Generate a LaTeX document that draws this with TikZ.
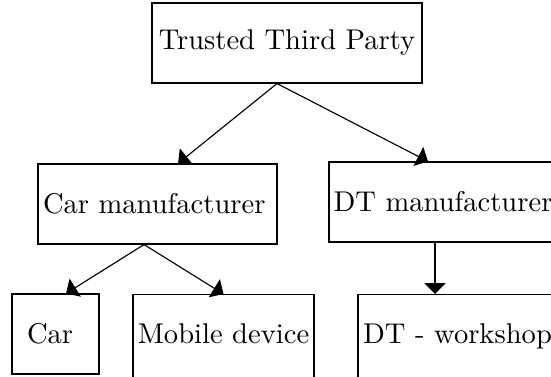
\documentclass[tikz,border=0pt]{standalone}
\usetikzlibrary{arrows.meta}
\begin{document}
\begin{tikzpicture}[x=0.35pt,y=-0.35pt,
  box/.style={draw, rectangle, inner xsep=1pt, minimum height=28pt, anchor=center},
  openbox/.style={draw, rectangle, inner xsep=1pt, inner ysep=0pt, text height=17pt, text depth=20pt, anchor=north},
  arr/.style={-{Triangle[length=3.8pt,width=7.4pt]}}]
\useasboundingbox (0,0) rectangle (551,376);
\clip (0,0) rectangle (551,376);
\node[box, minimum width=94.5pt] (ttp) at (287,43) {Trusted Third Party};
\node[box, inner xsep=1.75pt, text width=80.15pt, align=left] (cm) at (157.5,204) {Car manufacturer};
\node[box, minimum width=79.8pt] (dtm) at (443,202) {DT manufacturer};
\node[box, inner xsep=5.25pt, text width=19.95pt, align=left] (car) at (55.5,334) {Car};
\node[openbox, minimum width=63.35pt] (md) at (223.5,294) {Mobile device};
\node[openbox, minimum width=69.65pt] (dtw) at (457.5,294) {DT - workshop};
\draw[arr] ([xshift=-3.5pt]ttp.south) -- ([xshift=7.2pt]cm.north);
\draw[arr] ([xshift=-3.5pt]ttp.south) -- ([xshift=-5.25pt]dtm.north);
\draw[arr] ([xshift=-4.7pt]cm.south) -- ([xshift=3.7pt]car.north);
\draw[arr] ([xshift=-4.7pt]cm.south) -- (md.north);
\draw[arr] ([xshift=-2.8pt]dtm.south) -- ([xshift=-2.8pt]dtm.south |- dtw.north);
\end{tikzpicture}
\end{document}
